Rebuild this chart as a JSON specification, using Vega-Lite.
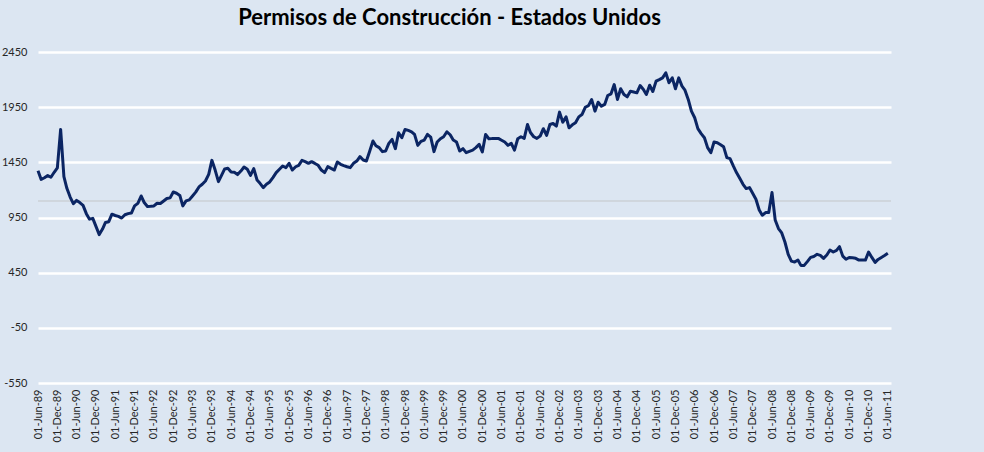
{
  "$schema": "https://vega.github.io/schema/vega-lite/v6.json",
  "width": 853,
  "height": 331,
  "autosize": "none",
  "padding": {"left": 38, "top": 52, "right": 93, "bottom": 69},
  "background": "#dce6f2",
  "config": {"view": {"stroke": null}, "font": "Lato"},
  "title": {"text": "Permisos de Construcción - Estados Unidos", "font": "Lato", "fontSize": 22, "fontWeight": "bold", "color": "#000000", "anchor": "middle", "dx": -15, "offset": 16},
  "data": {
    "format": {"parse": {"d": "date:'%Y-%m'"}},
    "values": [
{"d":"1989-06","v":1374},{"d":"1989-07","v":1295},{"d":"1989-08","v":1310},{"d":"1989-09","v":1330},{"d":"1989-10","v":1315},{"d":"1989-11","v":1360},{"d":"1989-12","v":1400},
{"d":"1990-01","v":1748},{"d":"1990-02","v":1320},{"d":"1990-03","v":1215},{"d":"1990-04","v":1135},{"d":"1990-05","v":1075},{"d":"1990-06","v":1105},{"d":"1990-07","v":1085},{"d":"1990-08","v":1060},{"d":"1990-09","v":985},{"d":"1990-10","v":935},{"d":"1990-11","v":942},{"d":"1990-12","v":870},
{"d":"1991-01","v":795},{"d":"1991-02","v":845},{"d":"1991-03","v":905},{"d":"1991-04","v":912},{"d":"1991-05","v":980},{"d":"1991-06","v":968},{"d":"1991-07","v":960},{"d":"1991-08","v":945},{"d":"1991-09","v":975},{"d":"1991-10","v":985},{"d":"1991-11","v":990},{"d":"1991-12","v":1055},
{"d":"1992-01","v":1078},{"d":"1992-02","v":1145},{"d":"1992-03","v":1086},{"d":"1992-04","v":1050},{"d":"1992-05","v":1052},{"d":"1992-06","v":1055},{"d":"1992-07","v":1079},{"d":"1992-08","v":1077},{"d":"1992-09","v":1100},{"d":"1992-10","v":1122},{"d":"1992-11","v":1128},{"d":"1992-12","v":1181},
{"d":"1993-01","v":1170},{"d":"1993-02","v":1150},{"d":"1993-03","v":1055},{"d":"1993-04","v":1100},{"d":"1993-05","v":1110},{"d":"1993-06","v":1145},{"d":"1993-07","v":1180},{"d":"1993-08","v":1227},{"d":"1993-09","v":1251},{"d":"1993-10","v":1281},{"d":"1993-11","v":1341},{"d":"1993-12","v":1468},
{"d":"1994-01","v":1380},{"d":"1994-02","v":1275},{"d":"1994-03","v":1330},{"d":"1994-04","v":1390},{"d":"1994-05","v":1396},{"d":"1994-06","v":1362},{"d":"1994-07","v":1360},{"d":"1994-08","v":1339},{"d":"1994-09","v":1371},{"d":"1994-10","v":1408},{"d":"1994-11","v":1387},{"d":"1994-12","v":1332},
{"d":"1995-01","v":1393},{"d":"1995-02","v":1290},{"d":"1995-03","v":1260},{"d":"1995-04","v":1221},{"d":"1995-05","v":1251},{"d":"1995-06","v":1272},{"d":"1995-07","v":1312},{"d":"1995-08","v":1357},{"d":"1995-09","v":1387},{"d":"1995-10","v":1417},{"d":"1995-11","v":1402},{"d":"1995-12","v":1441},
{"d":"1996-01","v":1380},{"d":"1996-02","v":1410},{"d":"1996-03","v":1423},{"d":"1996-04","v":1468},{"d":"1996-05","v":1456},{"d":"1996-06","v":1441},{"d":"1996-07","v":1456},{"d":"1996-08","v":1440},{"d":"1996-09","v":1423},{"d":"1996-10","v":1380},{"d":"1996-11","v":1357},{"d":"1996-12","v":1411},
{"d":"1997-01","v":1395},{"d":"1997-02","v":1380},{"d":"1997-03","v":1453},{"d":"1997-04","v":1432},{"d":"1997-05","v":1420},{"d":"1997-06","v":1410},{"d":"1997-07","v":1402},{"d":"1997-08","v":1441},{"d":"1997-09","v":1462},{"d":"1997-10","v":1502},{"d":"1997-11","v":1471},{"d":"1997-12","v":1462},
{"d":"1998-01","v":1550},{"d":"1998-02","v":1643},{"d":"1998-03","v":1600},{"d":"1998-04","v":1583},{"d":"1998-05","v":1547},{"d":"1998-06","v":1553},{"d":"1998-07","v":1622},{"d":"1998-08","v":1658},{"d":"1998-09","v":1574},{"d":"1998-10","v":1718},{"d":"1998-11","v":1673},{"d":"1998-12","v":1748},
{"d":"1999-01","v":1740},{"d":"1999-02","v":1727},{"d":"1999-03","v":1703},{"d":"1999-04","v":1604},{"d":"1999-05","v":1640},{"d":"1999-06","v":1652},{"d":"1999-07","v":1703},{"d":"1999-08","v":1679},{"d":"1999-09","v":1547},{"d":"1999-10","v":1634},{"d":"1999-11","v":1664},{"d":"1999-12","v":1682},
{"d":"2000-01","v":1727},{"d":"2000-02","v":1700},{"d":"2000-03","v":1652},{"d":"2000-04","v":1634},{"d":"2000-05","v":1553},{"d":"2000-06","v":1574},{"d":"2000-07","v":1538},{"d":"2000-08","v":1550},{"d":"2000-09","v":1561},{"d":"2000-10","v":1583},{"d":"2000-11","v":1613},{"d":"2000-12","v":1544},
{"d":"2001-01","v":1703},{"d":"2001-02","v":1664},{"d":"2001-03","v":1665},{"d":"2001-04","v":1667},{"d":"2001-05","v":1667},{"d":"2001-06","v":1650},{"d":"2001-07","v":1634},{"d":"2001-08","v":1604},{"d":"2001-09","v":1622},{"d":"2001-10","v":1561},{"d":"2001-11","v":1664},{"d":"2001-12","v":1682},
{"d":"2002-01","v":1667},{"d":"2002-02","v":1793},{"d":"2002-03","v":1720},{"d":"2002-04","v":1682},{"d":"2002-05","v":1667},{"d":"2002-06","v":1688},{"d":"2002-07","v":1755},{"d":"2002-08","v":1694},{"d":"2002-09","v":1793},{"d":"2002-10","v":1802},{"d":"2002-11","v":1778},{"d":"2002-12","v":1905},
{"d":"2003-01","v":1814},{"d":"2003-02","v":1862},{"d":"2003-03","v":1763},{"d":"2003-04","v":1790},{"d":"2003-05","v":1808},{"d":"2003-06","v":1862},{"d":"2003-07","v":1883},{"d":"2003-08","v":1949},{"d":"2003-09","v":1964},{"d":"2003-10","v":2019},{"d":"2003-11","v":1914},{"d":"2003-12","v":1995},
{"d":"2004-01","v":1959},{"d":"2004-02","v":1975},{"d":"2004-03","v":2056},{"d":"2004-04","v":2071},{"d":"2004-05","v":2155},{"d":"2004-06","v":2020},{"d":"2004-07","v":2117},{"d":"2004-08","v":2065},{"d":"2004-09","v":2044},{"d":"2004-10","v":2095},{"d":"2004-11","v":2088},{"d":"2004-12","v":2080},
{"d":"2005-01","v":2146},{"d":"2005-02","v":2110},{"d":"2005-03","v":2065},{"d":"2005-04","v":2149},{"d":"2005-05","v":2092},{"d":"2005-06","v":2186},{"d":"2005-07","v":2200},{"d":"2005-08","v":2216},{"d":"2005-09","v":2261},{"d":"2005-10","v":2171},{"d":"2005-11","v":2216},{"d":"2005-12","v":2117},
{"d":"2006-01","v":2216},{"d":"2006-02","v":2141},{"d":"2006-03","v":2104},{"d":"2006-04","v":2020},{"d":"2006-05","v":1914},{"d":"2006-06","v":1854},{"d":"2006-07","v":1755},{"d":"2006-08","v":1710},{"d":"2006-09","v":1673},{"d":"2006-10","v":1583},{"d":"2006-11","v":1538},{"d":"2006-12","v":1634},
{"d":"2007-01","v":1628},{"d":"2007-02","v":1610},{"d":"2007-03","v":1592},{"d":"2007-04","v":1493},{"d":"2007-05","v":1484},{"d":"2007-06","v":1417},{"d":"2007-07","v":1357},{"d":"2007-08","v":1305},{"d":"2007-09","v":1251},{"d":"2007-10","v":1212},{"d":"2007-11","v":1221},{"d":"2007-12","v":1170},
{"d":"2008-01","v":1115},{"d":"2008-02","v":1018},{"d":"2008-03","v":970},{"d":"2008-04","v":995},{"d":"2008-05","v":995},{"d":"2008-06","v":1176},{"d":"2008-07","v":927},{"d":"2008-08","v":850},{"d":"2008-09","v":810},{"d":"2008-10","v":728},{"d":"2008-11","v":616},{"d":"2008-12","v":555},
{"d":"2009-01","v":546},{"d":"2009-02","v":564},{"d":"2009-03","v":516},{"d":"2009-04","v":516},{"d":"2009-05","v":550},{"d":"2009-06","v":588},{"d":"2009-07","v":597},{"d":"2009-08","v":616},{"d":"2009-09","v":607},{"d":"2009-10","v":580},{"d":"2009-11","v":610},{"d":"2009-12","v":655},
{"d":"2010-01","v":637},{"d":"2010-02","v":652},{"d":"2010-03","v":686},{"d":"2010-04","v":600},{"d":"2010-05","v":571},{"d":"2010-06","v":588},{"d":"2010-07","v":585},{"d":"2010-08","v":580},{"d":"2010-09","v":564},{"d":"2010-10","v":564},{"d":"2010-11","v":564},{"d":"2010-12","v":637},
{"d":"2011-01","v":588},{"d":"2011-02","v":543},{"d":"2011-03","v":570},{"d":"2011-04","v":588},{"d":"2011-05","v":605},{"d":"2011-06","v":625}
    ]
  },
  "layer": [
    {
      "mark": {"type": "rule", "color": "#cfd6de", "strokeWidth": 1},
      "encoding": {"y": {"datum": 1100, "type": "quantitative", "scale": {"domain": [-550, 2450], "nice": false, "zero": false}}}
    },
    {
      "mark": {"type": "line", "color": "#0b2563", "strokeWidth": 3, "strokeJoin": "round"},
      "encoding": {
        "x": {
          "field": "d", "type": "temporal",
          "scale": {"domain": [{"year": 1989, "month": 6, "date": 1}, {"year": 2011, "month": 7, "date": 1}]},
          "axis": {
            "title": null, "format": "%d-%b-%y", "labelAngle": -90, "labelFontSize": 11, "labelColor": "#262626",
            "labelPadding": 6, "domain": false, "ticks": false, "grid": false, "labelOverlap": false, "labelFlush": false,
            "values": [
              {"year":1989,"month":6,"date":1},{"year":1989,"month":12,"date":1},
              {"year":1990,"month":6,"date":1},{"year":1990,"month":12,"date":1},
              {"year":1991,"month":6,"date":1},{"year":1991,"month":12,"date":1},
              {"year":1992,"month":6,"date":1},{"year":1992,"month":12,"date":1},
              {"year":1993,"month":6,"date":1},{"year":1993,"month":12,"date":1},
              {"year":1994,"month":6,"date":1},{"year":1994,"month":12,"date":1},
              {"year":1995,"month":6,"date":1},{"year":1995,"month":12,"date":1},
              {"year":1996,"month":6,"date":1},{"year":1996,"month":12,"date":1},
              {"year":1997,"month":6,"date":1},{"year":1997,"month":12,"date":1},
              {"year":1998,"month":6,"date":1},{"year":1998,"month":12,"date":1},
              {"year":1999,"month":6,"date":1},{"year":1999,"month":12,"date":1},
              {"year":2000,"month":6,"date":1},{"year":2000,"month":12,"date":1},
              {"year":2001,"month":6,"date":1},{"year":2001,"month":12,"date":1},
              {"year":2002,"month":6,"date":1},{"year":2002,"month":12,"date":1},
              {"year":2003,"month":6,"date":1},{"year":2003,"month":12,"date":1},
              {"year":2004,"month":6,"date":1},{"year":2004,"month":12,"date":1},
              {"year":2005,"month":6,"date":1},{"year":2005,"month":12,"date":1},
              {"year":2006,"month":6,"date":1},{"year":2006,"month":12,"date":1},
              {"year":2007,"month":6,"date":1},{"year":2007,"month":12,"date":1},
              {"year":2008,"month":6,"date":1},{"year":2008,"month":12,"date":1},
              {"year":2009,"month":6,"date":1},{"year":2009,"month":12,"date":1},
              {"year":2010,"month":6,"date":1},{"year":2010,"month":12,"date":1},
              {"year":2011,"month":6,"date":1}
            ]
          }
        },
        "y": {
          "field": "v", "type": "quantitative",
          "scale": {"domain": [-550, 2450], "nice": false, "zero": false},
          "axis": {
            "title": null, "values": [-550, -50, 450, 950, 1450, 1950, 2450], "domain": false, "ticks": false,
            "grid": true, "gridColor": "#ffffff", "gridWidth": 2.5, "gridOpacity": 1,
            "labelExpr": "datum.value + ''",
            "labelFontSize": 11, "labelColor": "#262626", "labelPadding": 11
          }
        }
      }
    }
  ]
}
